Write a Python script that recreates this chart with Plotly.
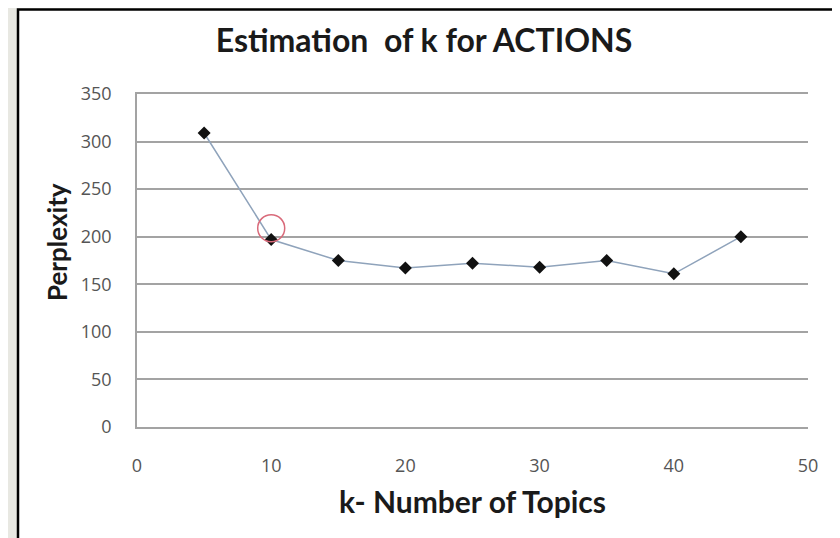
import plotly.graph_objects as go

k_topics = [5, 10, 15, 20, 25, 30, 35, 40, 45]
perplexity = [309, 197, 175, 167, 172, 168, 175, 161, 200]
highlight_k = [10]
highlight_val = [209]
x_ticks = [0, 10, 20, 30, 40, 50]
y_ticks = [0, 50, 100, 150, 200, 250, 300, 350]

fig = go.Figure()
fig.add_trace(go.Scatter(
    x=k_topics, y=perplexity, mode="lines+markers",
    line=dict(color="#8fa3bb", width=1.5),
    marker=dict(symbol="diamond", size=10, color="#111111"),
    showlegend=False, hoverinfo="skip"))
fig.add_trace(go.Scatter(
    x=highlight_k, y=highlight_val, mode="markers",
    marker=dict(symbol="circle-open", size=27, color="#d96a7a", line=dict(width=1.5)),
    showlegend=False, hoverinfo="skip"))

# page has an 8px body margin, so the figure is 832x530 and sits at (8, 8)
W, H = 832, 530
L, R, T, B = 129, 32, 86, 111
pw, ph = W - L - R, H - T - B

def px(x):
    return (x - L) / pw

def py(y):
    return (H - B - y) / ph

fig.add_shape(type="rect", xref="paper", yref="paper",
              x0=px(10), x1=px(860), y0=py(560), y1=py(1.5),
              fillcolor="white", line=dict(color="black", width=2.5), layer="below")

fig.add_annotation(text="<b>Perplexity</b>", xref="paper", yref="paper",
                   x=px(49), y=py(234), xanchor="center", yanchor="middle",
                   textangle=-90, showarrow=False,
                   font=dict(family="Lato", size=26, color="#1a1a1a"))

fig.update_layout(
    width=W, height=H,
    margin=dict(l=L, r=R, t=T, b=B, autoexpand=False),
    paper_bgcolor="#e8e8e2",
    plot_bgcolor="rgba(0,0,0,0)",
    title=dict(text="<b>Estimation  of k for ACTIONS</b>", x=416 / W, xanchor="center",
               y=1 - 33 / H, yanchor="middle", automargin=False,
               font=dict(family="Lato", size=32, color="#1a1a1a")),
    xaxis=dict(range=[0, 50], tickvals=x_ticks, showgrid=False, zeroline=False,
               showline=True, mirror=True, linecolor="#a3a3a3", linewidth=1.5,
               ticks="", ticklabelstandoff=22, automargin=False,
               tickfont=dict(family="Open Sans", size=18, color="#555555"),
               title=dict(text="<b>k- Number of Topics</b>", standoff=16,
                          font=dict(family="Lato", size=30, color="#1a1a1a"))),
    yaxis=dict(range=[0, 350], tickvals=y_ticks, showgrid=True, gridcolor="#a3a3a3",
               gridwidth=1.5, zeroline=False, showline=True, linecolor="#a3a3a3",
               linewidth=1.5, ticks="", ticklabelstandoff=20, automargin=False,
               tickfont=dict(family="Open Sans", size=18, color="#555555")),
)

fig.write_html("out.html")
